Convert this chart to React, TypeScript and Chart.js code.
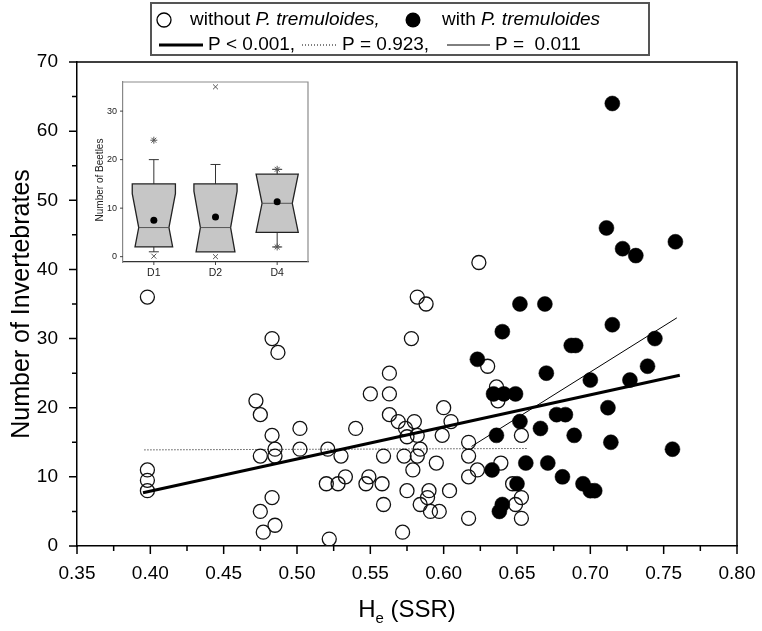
import React, { useEffect, useRef } from 'react';
import { Chart, registerables } from 'chart.js';

Chart.register(...registerables);

const FONT = "'Liberation Sans', Arial, Helvetica, sans-serif";
const NARROW = "'Liberation Sans Narrow', 'Arial Narrow', 'Liberation Sans', Arial, sans-serif";

// ---------- main scatter data ----------
const withoutX = [
  0.398, 0.398, 0.398, 0.398, 0.472, 0.475, 0.483, 0.487, 0.483, 0.502,
  0.485, 0.475, 0.485, 0.502, 0.521, 0.530, 0.540, 0.550, 0.563, 0.563,
  0.563, 0.559, 0.533, 0.520, 0.528, 0.549, 0.547, 0.558, 0.559, 0.483,
  0.475, 0.485, 0.477, 0.522, 0.569, 0.580, 0.574, 0.600, 0.605, 0.599,
  0.582, 0.575, 0.584, 0.617, 0.617, 0.573, 0.582, 0.595, 0.623, 0.617,
  0.579, 0.575, 0.590, 0.589, 0.604, 0.584, 0.591, 0.597, 0.617, 0.572,
  0.636, 0.630, 0.639, 0.653, 0.653, 0.649, 0.653, 0.647, 0.637, 0.624,
  0.582, 0.588, 0.578,
];
const withoutY = [
  36, 11, 9.5, 8, 21, 19, 30, 28, 16, 17,
  14, 13, 13, 14, 14, 13, 17, 22, 25, 22,
  19, 13, 10, 9, 9, 10, 9, 9, 6, 7,
  5, 3, 2, 1, 18, 18, 17, 20, 18, 16,
  16, 15.8, 14, 15, 13, 13, 13, 12, 11, 10,
  11, 8, 8, 7, 8, 6, 5, 5, 4, 2,
  23, 26, 12, 16, 7, 6, 4, 9, 21, 41,
  36, 35, 30,
];
const withX = [
  0.715, 0.711, 0.722, 0.731, 0.758, 0.715, 0.652, 0.669, 0.640, 0.687,
  0.690, 0.623, 0.744, 0.739, 0.670, 0.700, 0.727, 0.634, 0.641, 0.649,
  0.712, 0.677, 0.683, 0.652, 0.666, 0.636, 0.689, 0.714, 0.756, 0.656,
  0.671, 0.633, 0.681, 0.650, 0.695, 0.700, 0.703, 0.640, 0.638,
];
const withY = [
  64, 46, 43, 42, 44, 32, 35, 35, 31, 29,
  29, 27, 30, 26, 25, 24, 24, 22, 22, 22,
  20, 19, 19, 18, 17, 16, 16, 15, 14, 12,
  12, 11, 10, 9, 9, 8, 8, 6, 5,
];

// regression lines (end points)
const allFitX = [0.395, 0.761];
const allFitY = [7.7, 24.7];
const withoutFitX = [0.396, 0.657];
const withoutFitY = [13.9, 14.1];
const withFitX = [0.619, 0.759];
const withFitY = [14.4, 33.0];

const xTicks = [0.35, 0.40, 0.45, 0.50, 0.55, 0.60, 0.65, 0.70, 0.75, 0.80];
const yTicks = [0, 10, 20, 30, 40, 50, 60, 70];

// ---------- inset box plot data ----------
const insetCategories = ['D1', 'D2', 'D4'];
const insetQ1 = [2, 1, 5];
const insetMedian = [6, 6, 11];
const insetQ3 = [15, 15, 17];
const insetNotch = [7, 7.5, 6.5];
const insetWhiskerLow = [1, 1, 2];
const insetWhiskerHigh = [20, 19, 18];
const insetMean = [7.5, 8.2, 11.3];
const insetOutlierCat = ['D1', 'D1', 'D2', 'D2', 'D4', 'D4'];
const insetOutlierY = [24, 0.1, 35, 0, 18, 2];
const insetOutlierStyle = ['star', 'crossRot', 'crossRot', 'crossRot', 'star', 'star'];
const insetYTicks = [0, 10, 20, 30];

const pts = (xs: number[], ys: number[]) => xs.map((x, i) => ({ x, y: ys[i] }));

const mainDecor = {
  id: 'mainDecor',
  afterDraw(chart: any) {
    const { ctx, chartArea: a, scales } = chart;
    const x = scales.x;
    const y = scales.y;
    ctx.save();
    ctx.strokeStyle = '#000';
    ctx.lineWidth = 1.5;
    // frame top / right
    ctx.beginPath();
    ctx.moveTo(a.left, a.top);
    ctx.lineTo(a.right, a.top);
    ctx.lineTo(a.right, a.bottom);
    ctx.stroke();
    // x ticks (major + minor)
    ctx.beginPath();
    xTicks.forEach((v, i) => {
      const px = x.getPixelForValue(v);
      ctx.moveTo(px, a.bottom);
      ctx.lineTo(px, a.bottom + 8);
      if (i < xTicks.length - 1) {
        const m = x.getPixelForValue((v + xTicks[i + 1]) / 2);
        ctx.moveTo(m, a.bottom);
        ctx.lineTo(m, a.bottom + 5);
      }
    });
    yTicks.forEach((v, i) => {
      const py = y.getPixelForValue(v);
      ctx.moveTo(a.left, py);
      ctx.lineTo(a.left - 8, py);
      if (i < yTicks.length - 1) {
        const m = y.getPixelForValue((v + yTicks[i + 1]) / 2);
        ctx.moveTo(a.left, m);
        ctx.lineTo(a.left - 5, m);
      }
    });
    ctx.stroke();

    // axis titles
    ctx.fillStyle = '#000';
    ctx.save();
    ctx.translate(22, (a.top + a.bottom) / 2);
    ctx.rotate(-Math.PI / 2);
    ctx.textAlign = 'center';
    ctx.textBaseline = 'middle';
    ctx.font = `25px ${FONT}`;
    ctx.fillText('Number of Invertebrates', 0, 0);
    ctx.restore();

    ctx.textAlign = 'left';
    ctx.textBaseline = 'alphabetic';
    ctx.font = `24px ${FONT}`;
    const w1 = ctx.measureText('H').width;
    const w3 = ctx.measureText(' (SSR)').width;
    ctx.font = `15px ${FONT}`;
    const w2 = ctx.measureText('e').width;
    const sx = (a.left + a.right) / 2 - (w1 + w2 + w3) / 2;
    const base = 617;
    ctx.font = `24px ${FONT}`;
    ctx.fillText('H', sx, base);
    ctx.font = `15px ${FONT}`;
    ctx.fillText('e', sx + w1, base + 6);
    ctx.font = `24px ${FONT}`;
    ctx.fillText(' (SSR)', sx + w1 + w2, base);

    // legend box
    ctx.strokeStyle = '#555';
    ctx.lineWidth = 2;
    ctx.strokeRect(151, 3, 498, 52);

    const seg = (parts: [string, boolean][], x0: number, yy: number) => {
      let cx = x0;
      ctx.textBaseline = 'middle';
      for (const [t, it] of parts) {
        ctx.font = `${it ? 'italic ' : ''}19px ${FONT}`;
        ctx.fillText(t, cx, yy);
        cx += ctx.measureText(t).width;
      }
    };
    // row 1
    ctx.lineWidth = 1.3;
    ctx.strokeStyle = '#000';
    ctx.beginPath();
    ctx.arc(164, 20, 7, 0, Math.PI * 2);
    ctx.stroke();
    seg([['without ', false], ['P. tremuloides,', true]], 190, 20);
    ctx.fillStyle = '#000';
    ctx.beginPath();
    ctx.arc(413, 20, 7.5, 0, Math.PI * 2);
    ctx.fill();
    seg([['with ', false], ['P. tremuloides', true]], 442, 20);
    // row 2
    ctx.beginPath();
    ctx.lineWidth = 3;
    ctx.moveTo(159, 45);
    ctx.lineTo(203, 45);
    ctx.stroke();
    seg([['P < 0.001,', false]], 208, 45);
    ctx.beginPath();
    ctx.lineWidth = 1;
    ctx.setLineDash([1, 2]);
    ctx.moveTo(302, 45);
    ctx.lineTo(338, 45);
    ctx.stroke();
    ctx.setLineDash([]);
    seg([['P = 0.923,', false]], 342, 45);
    ctx.beginPath();
    ctx.lineWidth = 1;
    ctx.moveTo(447, 45);
    ctx.lineTo(490, 45);
    ctx.stroke();
    seg([['P =  0.011', false]], 495, 45);
    ctx.restore();
  },
};

const insetDecor = {
  id: 'insetDecor',
  beforeDatasetsDraw(chart: any) {
    const { ctx, chartArea: a, scales } = chart;
    const x = scales.x;
    const y = scales.y;
    ctx.save();
    // frame top / right
    ctx.strokeStyle = '#8c8c8c';
    ctx.lineWidth = 1.2;
    ctx.beginPath();
    ctx.moveTo(a.left, a.top);
    ctx.lineTo(a.right, a.top);
    ctx.lineTo(a.right, a.bottom);
    ctx.stroke();
    // ticks
    ctx.strokeStyle = '#444';
    ctx.lineWidth = 1;
    ctx.beginPath();
    insetYTicks.forEach((v) => {
      const py = y.getPixelForValue(v);
      ctx.moveTo(a.left, py);
      ctx.lineTo(a.left - 3, py);
    });
    insetCategories.forEach((_, i) => {
      const px = x.getPixelForValue(i);
      ctx.moveTo(px, a.bottom);
      ctx.lineTo(px, a.bottom + 3);
    });
    ctx.stroke();

    const bin = a.width / insetCategories.length;
    const full = 0.35 * bin;
    const narrow = 0.245 * bin;
    insetCategories.forEach((_, i) => {
      const cx = x.getPixelForValue(i);
      const q1 = insetQ1[i], q3 = insetQ3[i], med = insetMedian[i], n = insetNotch[i];
      const hw = (v: number) => {
        const d = Math.abs(v - med);
        return d >= n ? full : narrow + ((full - narrow) * d) / n;
      };
      // whiskers
      ctx.strokeStyle = '#333';
      ctx.lineWidth = 1;
      ctx.beginPath();
      const hi = insetWhiskerHigh[i];
      const lo = insetWhiskerLow[i];
      if (hi > q3) {
        ctx.moveTo(cx, y.getPixelForValue(q3));
        ctx.lineTo(cx, y.getPixelForValue(hi));
        ctx.moveTo(cx - 5, y.getPixelForValue(hi));
        ctx.lineTo(cx + 5, y.getPixelForValue(hi));
      }
      if (lo < q1) {
        ctx.moveTo(cx, y.getPixelForValue(q1));
        ctx.lineTo(cx, y.getPixelForValue(lo));
        ctx.moveTo(cx - 5, y.getPixelForValue(lo));
        ctx.lineTo(cx + 5, y.getPixelForValue(lo));
      }
      ctx.stroke();
      // notched box
      const left: [number, number][] = [];
      left.push([cx - hw(q3), y.getPixelForValue(q3)]);
      if (med + n < q3) left.push([cx - full, y.getPixelForValue(med + n)]);
      left.push([cx - narrow, y.getPixelForValue(med)]);
      if (med - n > q1) left.push([cx - full, y.getPixelForValue(med - n)]);
      left.push([cx - hw(q1), y.getPixelForValue(q1)]);
      const right = left.map(([px, py]) => [2 * cx - px, py] as [number, number]).reverse();
      const poly = left.concat(right);
      ctx.beginPath();
      poly.forEach(([px, py], k) => (k === 0 ? ctx.moveTo(px, py) : ctx.lineTo(px, py)));
      ctx.closePath();
      ctx.fillStyle = '#c6c6c6';
      ctx.fill();
      ctx.strokeStyle = '#222';
      ctx.lineWidth = 1.3;
      ctx.stroke();
      // median
      ctx.beginPath();
      ctx.strokeStyle = '#555';
      ctx.lineWidth = 1;
      ctx.moveTo(cx - narrow, y.getPixelForValue(med));
      ctx.lineTo(cx + narrow, y.getPixelForValue(med));
      ctx.stroke();
    });

    // y title
    ctx.save();
    ctx.fillStyle = '#222';
    ctx.translate(100, 180);
    ctx.rotate(-Math.PI / 2);
    ctx.textAlign = 'center';
    ctx.textBaseline = 'middle';
    ctx.font = `10px ${FONT}`;
    ctx.fillText('Number of Beetles', 0, 0);
    ctx.restore();
    ctx.restore();
  },
};

export default function App() {
  const mainRef = useRef<HTMLCanvasElement>(null);
  const insetRef = useRef<HTMLCanvasElement>(null);

  useEffect(() => {
    Chart.defaults.font.family = FONT;
    const main = new Chart(mainRef.current as HTMLCanvasElement, {
      type: 'scatter',
      data: {
        datasets: [
          {
            label: 'all fit',
            data: pts(allFitX, allFitY),
            showLine: true,
            borderColor: '#000',
            borderWidth: 3,
            pointRadius: 0,
            order: 1,
          },
          {
            label: 'without fit',
            data: pts(withoutFitX, withoutFitY),
            showLine: true,
            borderColor: '#000',
            borderWidth: 1,
            borderDash: [1, 2],
            pointRadius: 0,
            order: 1,
          },
          {
            label: 'with fit',
            data: pts(withFitX, withFitY),
            showLine: true,
            borderColor: '#000',
            borderWidth: 1,
            pointRadius: 0,
            order: 1,
          },
          {
            label: 'with P. tremuloides',
            data: pts(withX, withY),
            pointRadius: 7.5,
            pointBackgroundColor: '#000',
            pointBorderColor: '#000',
            pointBorderWidth: 0.5,
            order: 2,
          },
          {
            label: 'without P. tremuloides',
            data: pts(withoutX, withoutY),
            pointRadius: 7,
            pointBackgroundColor: 'rgba(0,0,0,0)',
            pointBorderColor: '#111',
            pointBorderWidth: 1.3,
            order: 3,
          },
        ],
      },
      options: {
        animation: false,
        responsive: false,
        devicePixelRatio: 1,
        events: [],
        layout: { padding: { left: 0, top: 62, right: 25, bottom: 0 } },
        plugins: { legend: { display: false }, tooltip: { enabled: false } },
        scales: {
          x: {
            type: 'linear',
            min: 0.35,
            max: 0.8,
            grid: { display: false, drawTicks: false },
            border: { display: true, color: '#000', width: 1.5 },
            afterBuildTicks: (s: any) => {
              s.ticks = xTicks.map((v) => ({ value: v }));
            },
            afterFit: (s: any) => {
              s.height = 85;
              s.paddingLeft = 0;
              s.paddingRight = 0;
            },
            ticks: {
              padding: 16,
              color: '#000',
              font: { size: 19, family: FONT },
              maxRotation: 0,
              autoSkip: false,
              callback: (v: any) => Number(v).toFixed(2),
            },
          },
          y: {
            type: 'linear',
            min: 0,
            max: 70,
            grid: { display: false, drawTicks: false },
            border: { display: true, color: '#000', width: 1.5 },
            afterBuildTicks: (s: any) => {
              s.ticks = yTicks.map((v) => ({ value: v }));
            },
            afterFit: (s: any) => {
              s.width = 77;
              s.paddingTop = 0;
              s.paddingBottom = 0;
            },
            ticks: {
              padding: 19,
              color: '#000',
              font: { size: 19, family: FONT },
              autoSkip: false,
            },
          },
        },
      },
      plugins: [mainDecor],
    } as any);

    const inset = new Chart(insetRef.current as HTMLCanvasElement, {
      type: 'line',
      data: {
        labels: insetCategories,
        datasets: [
          {
            label: 'mean',
            data: insetCategories.map((c, i) => ({ x: c, y: insetMean[i] })),
            showLine: false,
            pointRadius: 3.5,
            pointBackgroundColor: '#000',
            pointBorderColor: '#000',
            pointBorderWidth: 0,
          },
          {
            label: 'outliers',
            data: insetOutlierCat.map((c, i) => ({ x: c, y: insetOutlierY[i] })),
            showLine: false,
            pointStyle: insetOutlierStyle as any,
            pointRadius: 3.5,
            pointBorderColor: '#555',
            pointBorderWidth: 1,
            pointBackgroundColor: 'rgba(0,0,0,0)',
          },
        ],
      },
      options: {
        animation: false,
        responsive: false,
        devicePixelRatio: 1,
        events: [],
        layout: { padding: { left: 83, top: 82, right: 454, bottom: 344 } },
        plugins: { legend: { display: false }, tooltip: { enabled: false } },
        scales: {
          x: {
            type: 'category',
            offset: true,
            grid: { display: false, drawTicks: false },
            border: { display: true, color: '#333', width: 1.2 },
            afterFit: (s: any) => {
              s.height = 25;
              s.paddingLeft = 0;
              s.paddingRight = 0;
            },
            ticks: {
              padding: 5,
              color: '#222',
              font: { size: 10.5, family: NARROW },
              maxRotation: 0,
            },
          },
          y: {
            type: 'linear',
            min: -1.1,
            max: 36,
            grid: { display: false, drawTicks: false },
            border: { display: true, color: '#888', width: 1.2 },
            afterBuildTicks: (s: any) => {
              s.ticks = insetYTicks.map((v) => ({ value: v }));
            },
            afterFit: (s: any) => {
              s.width = 40;
              s.paddingTop = 0;
              s.paddingBottom = 0;
            },
            ticks: {
              padding: 6,
              color: '#222',
              font: { size: 9, family: NARROW },
            },
          },
        },
      },
      plugins: [insetDecor],
    } as any);

    return () => {
      main.destroy();
      inset.destroy();
    };
  }, []);

  return (
    <div style={{ position: 'absolute', left: 0, top: 0, width: 762, height: 631, background: '#fff' }}>
      <canvas ref={mainRef} width={762} height={631} style={{ position: 'absolute', left: 0, top: 0 }} />
      <canvas ref={insetRef} width={762} height={631} style={{ position: 'absolute', left: 0, top: 0 }} />
    </div>
  );
}
